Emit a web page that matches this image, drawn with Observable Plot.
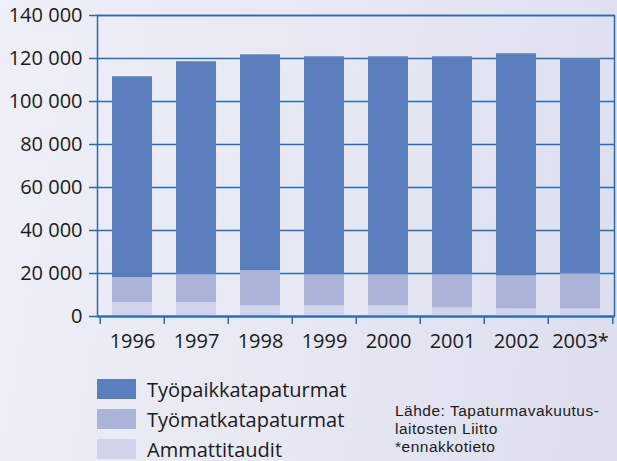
<!DOCTYPE html>
<html>
<head>
<meta charset="utf-8">
<script src="https://cdn.jsdelivr.net/npm/d3@7"></script>
<script src="https://cdn.jsdelivr.net/npm/@observablehq/plot@0.6"></script>
<style>
  html, body { margin: 0; padding: 0; }
  body {
    width: 617px; height: 461px; overflow: hidden; position: relative;
    background: linear-gradient(100deg, #efeff7 0%, #e6e7f2 55%, #dcdeee 100%);
    font-family: "Open Sans", sans-serif; color: #1a1a1a;
  }
  #chart { position: absolute; left: 0; top: 0; }
  .legend { position: absolute; left: 97px; top: 379px; }
  .row { display: flex; align-items: center; height: 20px; margin-bottom: 10px; font-size: 20px; }
  .sw { width: 39px; height: 20px; margin-right: 11px; }
  .src { position: absolute; left: 395px; top: 402px; font-family: "Liberation Sans", sans-serif; font-size: 15.5px; letter-spacing: 0.5px; line-height: 18px; }
</style>
</head>
<body>
<div id="chart"></div>
<div class="legend" id="legend"></div>
<div class="src">Lähde: Tapaturmavakuutus-<br>laitosten Liitto<br>*ennakkotieto</div>
<script>
const years = ["1996", "1997", "1998", "1999", "2000", "2001", "2002", "2003*"];
const seriesNames = ["Ammattitaudit", "Työmatkatapaturmat", "Työpaikkatapaturmat"];
const ammattitaudit = [6400, 6400, 5000, 5000, 5000, 4000, 3600, 3600];
const tyomatka = [11700, 13000, 16300, 14400, 14400, 15400, 15300, 16300];
const tyopaikka = [93400, 99100, 100400, 101400, 101400, 101400, 103300, 100100];
const yTicks = [0, 20000, 40000, 60000, 80000, 100000, 120000, 140000];
const colors = ["#d0d3e9", "#aab4d8", "#5b7fbc"];

const valuesBySeries = [ammattitaudit, tyomatka, tyopaikka];
const table = [];
seriesNames.forEach((s, i) => years.forEach((y, j) => table.push({year: y, series: s, value: valuesBySeries[i][j]})));

const W = 617, H = 360, ML = 97, MR = 3, MT = 15, MB = 44;
const step = (W - ML - MR) / years.length;
const blue = "#2a6cb4";
const fmt = d => d3.format(",")(d).replace(/,/g, " ");

const chart = Plot.plot({
  width: W, height: H,
  marginLeft: ML, marginRight: MR, marginTop: MT, marginBottom: MB,
  style: {fontFamily: "Open Sans, sans-serif", fontSize: "20px", background: "transparent", color: "#1a1a1a"},
  x: {domain: years, paddingInner: 0.38, paddingOuter: 0.19, label: null, axis: null},
  y: {domain: [0, 140000], label: null, axis: null},
  color: {domain: seriesNames, range: colors},
  marks: [
    Plot.ruleY(yTicks, {stroke: blue, strokeWidth: 1.5}),
    Plot.barY(table, Plot.stackY({x: "year", y: "value", fill: "series", order: null})),
    Plot.frame({stroke: blue, strokeWidth: 1.5}),
    Plot.ruleY([0], {stroke: blue, strokeWidth: 2}),
    Plot.axisY(yTicks, {anchor: "left", tickSize: 8, tickPadding: 7, stroke: blue, strokeWidth: 1.5, tickFormat: fmt, fill: "#1a1a1a", fontSize: 20, label: null}),
    Plot.axisX(years, {anchor: "bottom", tickSize: 8, text: null, dx: -step / 2, stroke: blue, strokeWidth: 1.5, label: null}),
    Plot.axisX([years[years.length - 1]], {anchor: "bottom", tickSize: 8, text: null, dx: step / 2, stroke: blue, strokeWidth: 1.5, label: null}),
    Plot.axisX(years, {anchor: "bottom", tickSize: 0, tickPadding: 17, fill: "#1a1a1a", fontSize: 20, label: null})
  ]
});
document.getElementById("chart").appendChild(chart);

const legend = document.getElementById("legend");
[2, 1, 0].forEach(i => {
  const row = document.createElement("div");
  row.className = "row";
  const sw = document.createElement("div");
  sw.className = "sw";
  sw.style.background = colors[i];
  const t = document.createElement("span");
  t.textContent = seriesNames[i];
  row.appendChild(sw); row.appendChild(t);
  legend.appendChild(row);
});
</script>
</body>
</html>
